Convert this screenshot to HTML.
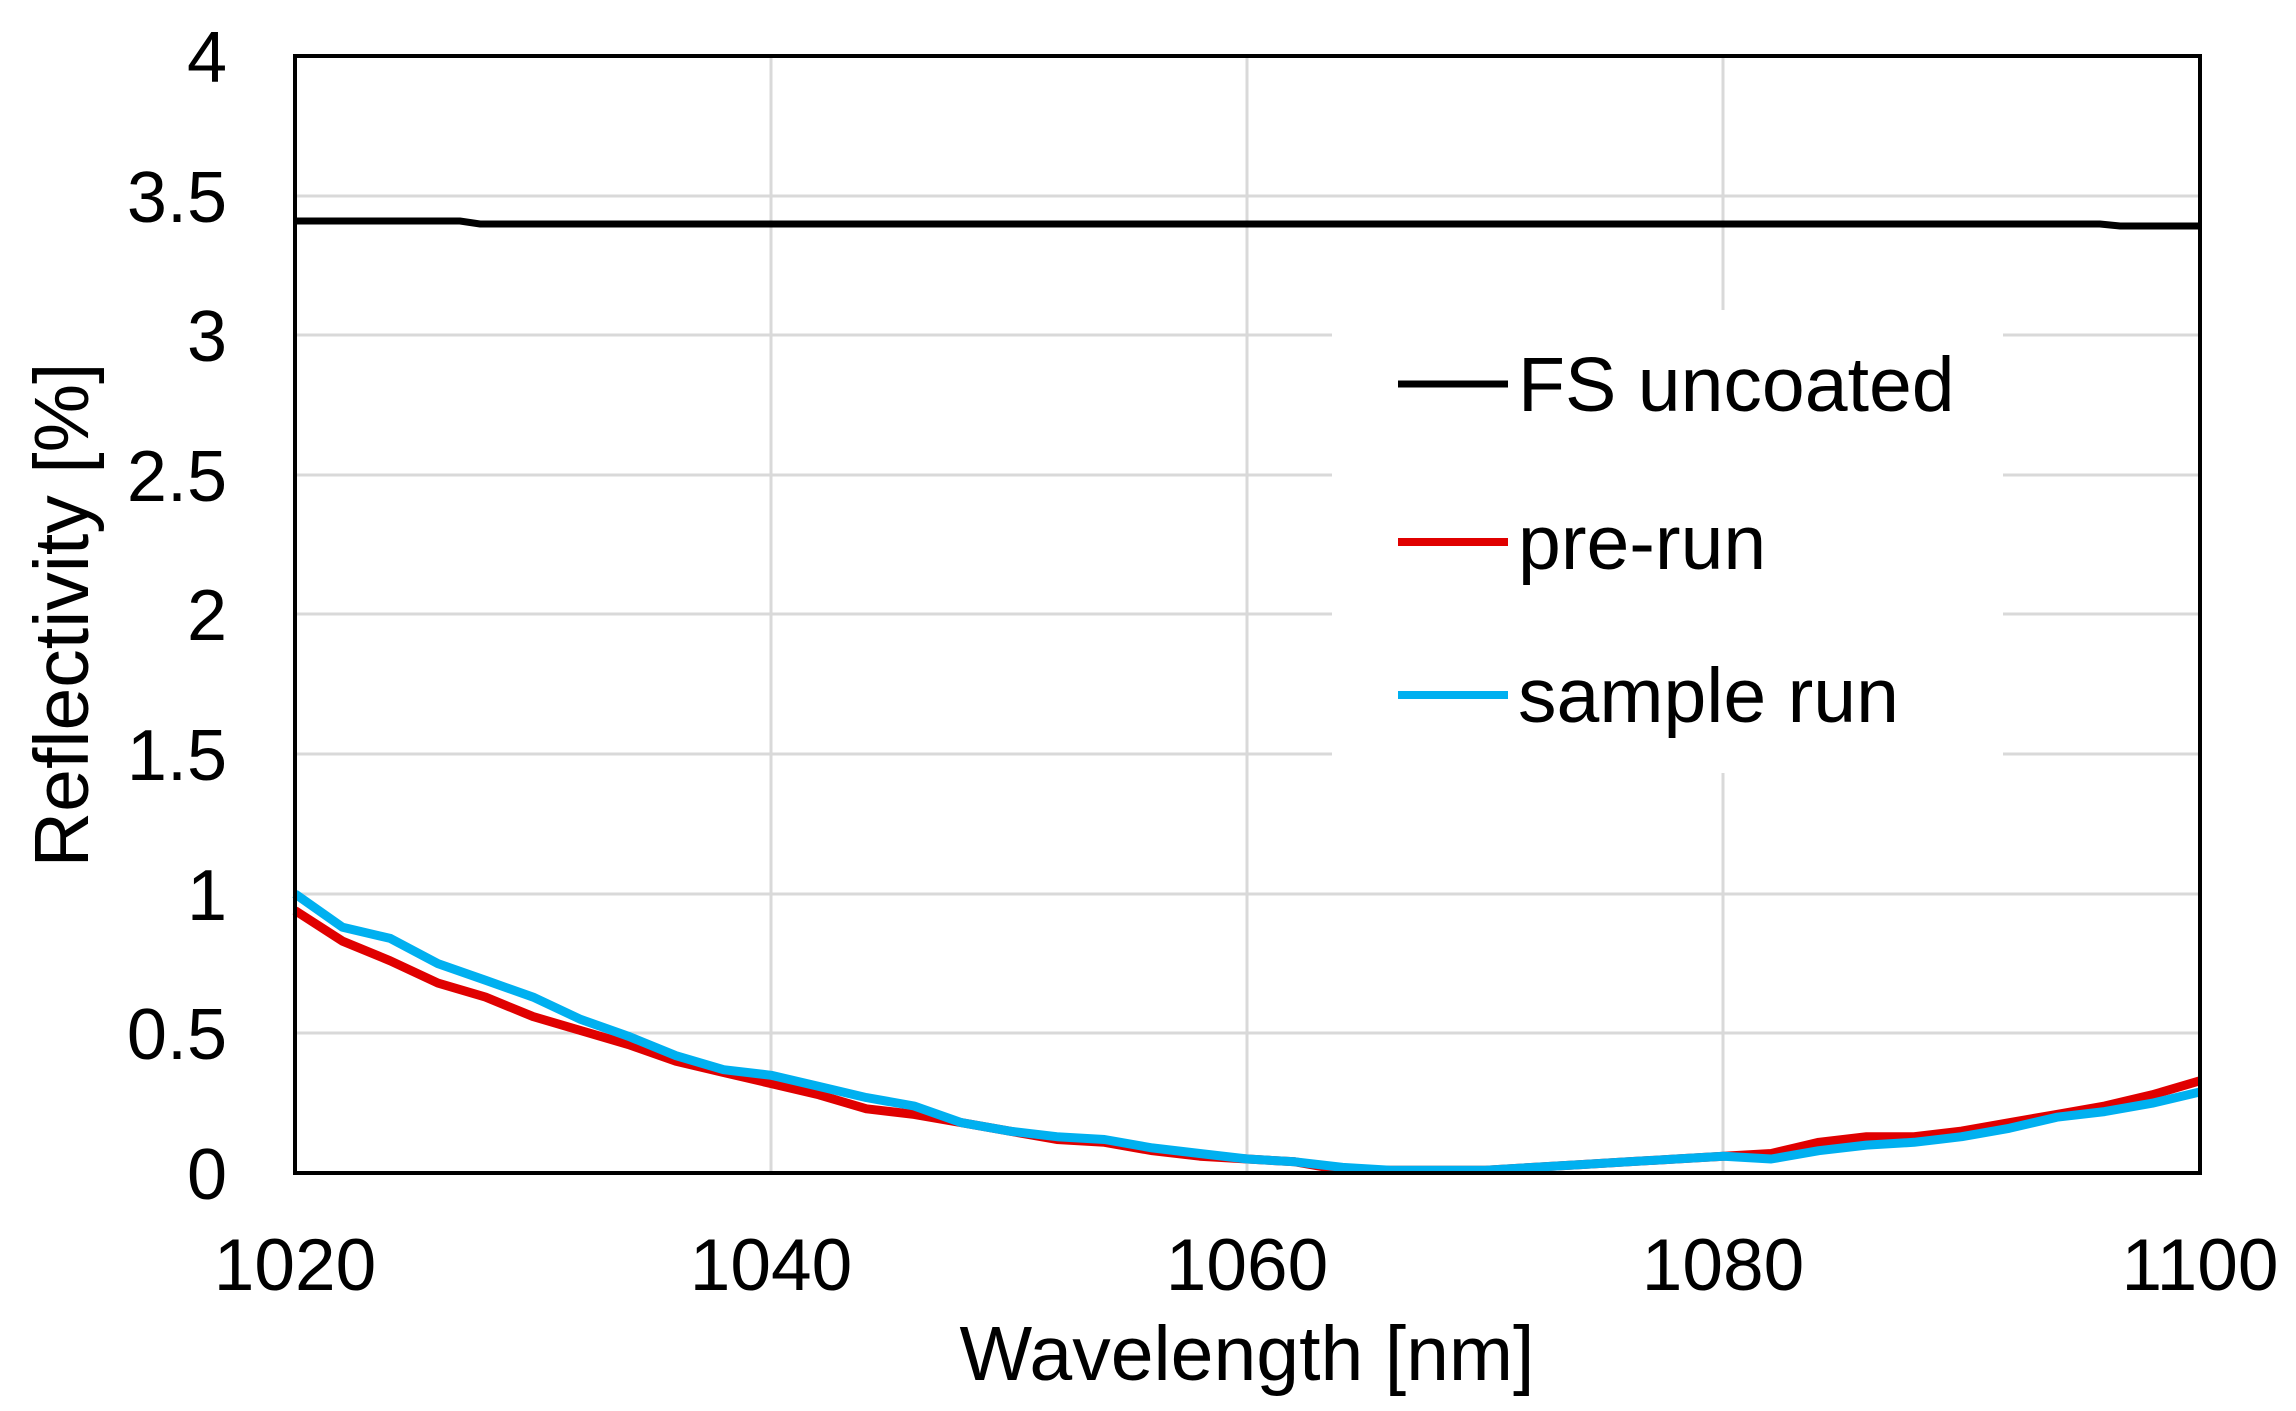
<!DOCTYPE html>
<html><head><meta charset="utf-8"><style>
html,body{margin:0;padding:0;background:#fff;}
svg{display:block;}
text{font-family:"Liberation Sans",Arial,sans-serif;fill:#000;}
</style></head><body>
<svg id="s" width="2296" height="1411" viewBox="0 0 2296 1411" xmlns="http://www.w3.org/2000/svg">
<g stroke="#d9d9d9" stroke-width="3">
<line x1="771" y1="56" x2="771" y2="1173"/>
<line x1="1247" y1="56" x2="1247" y2="1173"/>
<line x1="1723" y1="56" x2="1723" y2="1173"/>
<line x1="295" y1="196" x2="2200" y2="196"/>
<line x1="295" y1="335" x2="2200" y2="335"/>
<line x1="295" y1="475" x2="2200" y2="475"/>
<line x1="295" y1="614" x2="2200" y2="614"/>
<line x1="295" y1="754" x2="2200" y2="754"/>
<line x1="295" y1="894" x2="2200" y2="894"/>
<line x1="295" y1="1033" x2="2200" y2="1033"/>
</g>
<rect x="1332" y="310" width="671" height="463" fill="#fff"/>
<polyline points="295,221 460,221 480,224 2100,224 2120,226 2200,226" fill="none" stroke="#000" stroke-width="7"/>
<polyline id="red" fill="none" stroke="#e00000" stroke-width="9" stroke-linejoin="round"/>
<polyline id="blue" fill="none" stroke="#00b0f0" stroke-width="9" stroke-linejoin="round"/>
<rect x="295" y="56" width="1905" height="1117" fill="none" stroke="#000" stroke-width="4"/>
<g font-size="72" text-anchor="end">
<text x="227" y="82">4</text>
<text x="227" y="222">3.5</text>
<text x="227" y="361">3</text>
<text x="227" y="501">2.5</text>
<text x="227" y="640">2</text>
<text x="227" y="780">1.5</text>
<text x="227" y="920">1</text>
<text x="227" y="1059">0.5</text>
<text x="227" y="1199">0</text>
</g>
<g font-size="73" text-anchor="middle">
<text x="295" y="1290">1020</text>
<text x="771" y="1290">1040</text>
<text x="1247" y="1290">1060</text>
<text x="1723" y="1290">1080</text>
<text x="2200" y="1290">1100</text>
</g>
<g font-size="77" text-anchor="middle">
<text x="1247" y="1380">Wavelength [nm]</text>
<text transform="translate(88,615) rotate(-90)">Reflectivity [%]</text>
</g>
<line x1="1398" y1="384" x2="1508" y2="384" stroke="#000" stroke-width="7"/>
<line x1="1398" y1="542" x2="1508" y2="542" stroke="#e00000" stroke-width="8"/>
<line x1="1398" y1="695" x2="1508" y2="695" stroke="#00b0f0" stroke-width="8"/>
<g font-size="77">
<text x="1518" y="411">FS uncoated</text>
<text x="1518" y="569">pre-run</text>
<text x="1518" y="722">sample run</text>
</g>
</svg>
<script>
var R=[0.94,0.83,0.76,0.68,0.63,0.56,0.51,0.46,0.40,0.36,0.32,0.28,0.23,0.21,0.18,0.15,0.12,0.11,0.08,0.06,0.05,0.04,0.01,0.01,0.01,0.01,0.02,0.03,0.04,0.05,0.06,0.07,0.11,0.13,0.13,0.15,0.18,0.21,0.24,0.28,0.33];
var B=[1.00,0.88,0.84,0.75,0.69,0.63,0.55,0.49,0.42,0.37,0.35,0.31,0.27,0.24,0.18,0.15,0.13,0.12,0.09,0.07,0.05,0.04,0.02,0.01,0.01,0.01,0.02,0.03,0.04,0.05,0.06,0.05,0.08,0.10,0.11,0.13,0.16,0.20,0.22,0.25,0.29];
function pts(a){return a.map(function(v,i){return (295+i*47.62).toFixed(1)+","+(1173-v*279.25).toFixed(1)}).join(" ");}
document.getElementById("red").setAttribute("points",pts(R));
document.getElementById("blue").setAttribute("points",pts(B));
</script>
</body></html>
